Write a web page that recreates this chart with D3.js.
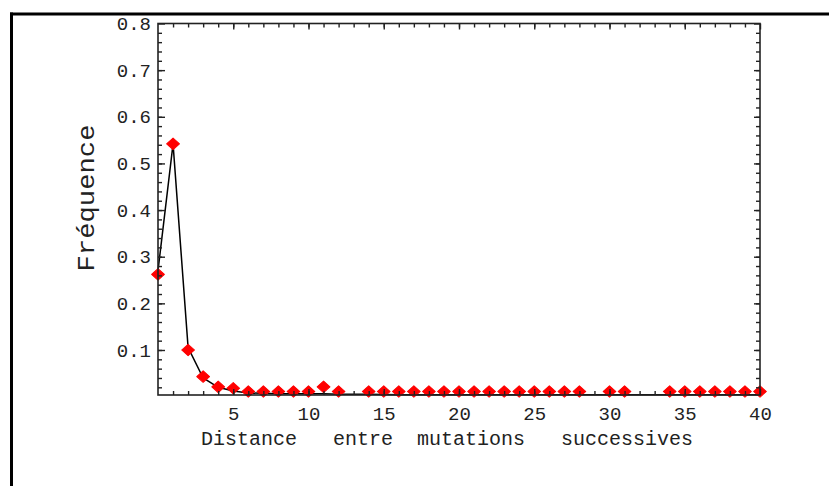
<!DOCTYPE html>
<html>
<head>
<meta charset="utf-8">
<script src="https://cdn.jsdelivr.net/npm/d3@7"></script>
<style>
  body { margin: 0; background: #fff; }
  svg { display: block; }
  text { font-family: "Liberation Mono", "Courier New", monospace; fill: #222; }
</style>
</head>
<body>
<script>

// observed frequencies (distance between successive mutations)
var distances = [0, 1, 2, 3, 4, 5, 6, 7, 8, 9, 10, 11, 12,
                 14, 15, 16, 17, 18, 19, 20, 21, 22, 23, 24, 25, 26, 27, 28,
                 30, 31, 34, 35, 36, 37, 38, 39, 40];
var frequencies = [0.262, 0.542, 0.100, 0.043, 0.021, 0.018, 0.011, 0.011, 0.011, 0.011, 0.011, 0.021, 0.011,
                   0.011, 0.011, 0.011, 0.011, 0.011, 0.011, 0.011, 0.011, 0.011, 0.011, 0.011, 0.011, 0.011, 0.011, 0.011,
                   0.011, 0.011, 0.011, 0.011, 0.011, 0.011, 0.011, 0.011, 0.011];

// fitted curve (black line)
var curveX = [0, 1, 2, 3, 4, 5, 6, 7, 8, 9, 10, 11, 12, 14, 16, 20, 25, 30, 35, 40];
var curveY = [0.27, 0.542, 0.105, 0.040, 0.020, 0.012, 0.008, 0.007, 0.006, 0.006, 0.006, 0.006, 0.005,
              0.005, 0.004, 0.004, 0.004, 0.004, 0.004, 0.004];

var xMajor = [5, 10, 15, 20, 25, 30, 35, 40];
var yMajor = [0.1, 0.2, 0.3, 0.4, 0.5, 0.6, 0.7, 0.8];
var xLabel = "Distance   entre  mutations   successives";
var yLabel = "Fréquence";

var width = 829, height = 486;

var x = d3.scaleLinear().domain([0, 40]).range([158, 760]);
var y = d3.scaleLinear().domain([0.0035, 0.8]).range([395, 23.5]);

var xMinor = d3.range(1, 40);
var yMinor = d3.range(1, 40).map(function (i) { return +(i * 0.02).toFixed(2); });

var svg = d3.select("body").append("svg")
    .attr("width", width)
    .attr("height", height);

// outer frame (top and left only)
svg.append("line")
    .attr("x1", 10).attr("x2", width)
    .attr("y1", 14).attr("y2", 14)
    .attr("stroke", "#000").attr("stroke-width", 3);
svg.append("line")
    .attr("x1", 11.5).attr("x2", 11.5)
    .attr("y1", 12.5).attr("y2", height)
    .attr("stroke", "#000").attr("stroke-width", 3);

// fitted line
var line = d3.line()
    .x(function (d) { return x(d[0]); })
    .y(function (d) { return y(d[1]); });

svg.append("path")
    .datum(curveX.map(function (v, i) { return [v, curveY[i]]; }))
    .attr("fill", "none")
    .attr("stroke", "#000")
    .attr("stroke-width", 1.5)
    .attr("d", line);

// points
var diamond = d3.symbol().type(d3.symbolSquare).size(82);
svg.selectAll(".pt")
    .data(distances)
    .enter()
    .append("path")
    .attr("class", "pt")
    .attr("d", diamond)
    .attr("fill", "#ff0000")
    .attr("stroke", "#ff0000")
    .attr("stroke-width", 1)
    .attr("stroke-linejoin", "round")
    .attr("transform", function (d, i) {
        return "translate(" + x(d) + "," + y(frequencies[i]) + ") scale(1,0.9) rotate(45)";
    });

// axes frame
function styleAxis(g) {
    g.select(".domain").remove();
    g.selectAll(".tick line").attr("stroke", "#222").attr("stroke-width", 1.4);
    g.selectAll("text").attr("font-size", 19).attr("fill", "#222");
}

var y0 = y.range()[0], y1 = y.range()[1];

svg.append("g").attr("transform", "translate(0," + y0 + ")")
    .call(d3.axisBottom(x).tickValues(xMinor).tickSize(-4).tickFormat(""))
    .call(styleAxis);
svg.append("g").attr("transform", "translate(0," + y0 + ")")
    .call(d3.axisBottom(x).tickValues(xMajor).tickSize(-6).tickPadding(12).tickFormat(d3.format("d")))
    .call(styleAxis);
svg.append("g").attr("transform", "translate(0," + y1 + ")")
    .call(d3.axisTop(x).tickValues(xMinor).tickSize(-4).tickFormat(""))
    .call(styleAxis);
svg.append("g").attr("transform", "translate(0," + y1 + ")")
    .call(d3.axisTop(x).tickValues(xMajor).tickSize(-6).tickFormat(""))
    .call(styleAxis);

svg.append("g").attr("transform", "translate(" + x(0) + ",0)")
    .call(d3.axisLeft(y).tickValues(yMinor).tickSize(-4).tickFormat(""))
    .call(styleAxis);
svg.append("g").attr("transform", "translate(" + x(0) + ",0)")
    .call(d3.axisLeft(y).tickValues(yMajor).tickSize(-7).tickPadding(7).tickFormat(d3.format(".1f")))
    .call(styleAxis);
svg.append("g").attr("transform", "translate(" + x(40) + ",0)")
    .call(d3.axisRight(y).tickValues(yMinor).tickSize(-4).tickFormat(""))
    .call(styleAxis);
svg.append("g").attr("transform", "translate(" + x(40) + ",0)")
    .call(d3.axisRight(y).tickValues(yMajor).tickSize(-6).tickFormat(""))
    .call(styleAxis);

svg.append("rect")
    .attr("x", x(0)).attr("y", y1)
    .attr("width", x(40) - x(0)).attr("height", y0 - y1)
    .attr("fill", "none")
    .attr("stroke", "#222")
    .attr("stroke-width", 1.6);

// axis titles
svg.append("text")
    .attr("x", 201).attr("y", 445)
    .attr("font-size", 20)
    .attr("textLength", 492)
    .attr("lengthAdjust", "spacingAndGlyphs")
    .style("white-space", "pre")
    .text(xLabel);

svg.append("text")
    .attr("transform", "translate(94,198) rotate(-90)")
    .attr("text-anchor", "middle")
    .attr("font-size", 24)
    .attr("textLength", 147)
    .attr("lengthAdjust", "spacingAndGlyphs")
    .text(yLabel);

</script>
</body>
</html>
